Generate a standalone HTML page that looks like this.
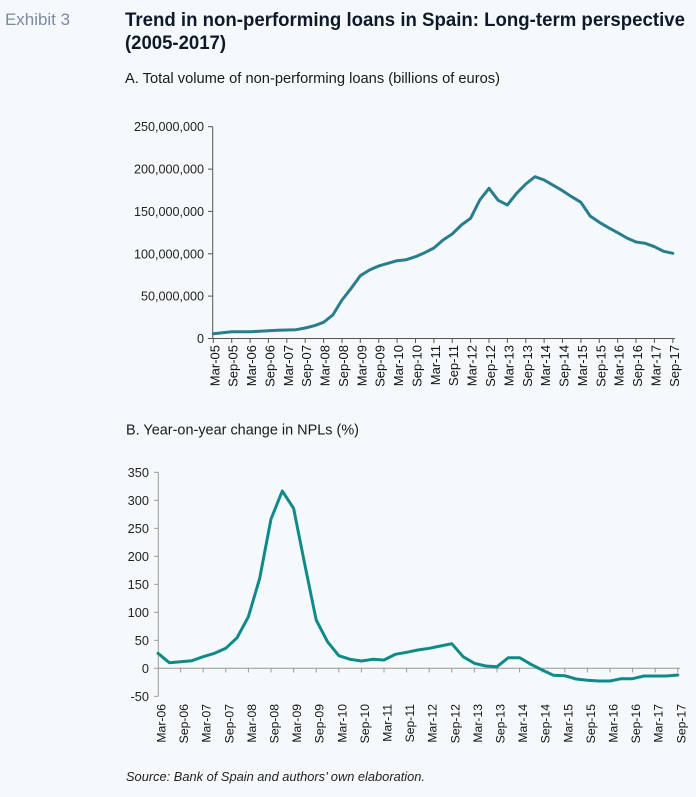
<!DOCTYPE html>
<html><head><meta charset="utf-8"><style>
html,body{margin:0;padding:0;background:#f5f9fb;}
svg{display:block;font-family:"Liberation Sans",Arial,sans-serif;}
</style></head><body>
<svg width="696" height="797" viewBox="0 0 696 797" xmlns="http://www.w3.org/2000/svg">
<rect width="696" height="797" fill="#f5f9fb"/>
<text x="5" y="25" font-size="17" fill="#7a8ba0" textLength="65" lengthAdjust="spacingAndGlyphs">Exhibit 3</text>
<text x="125" y="26" font-size="19.5" font-weight="bold" fill="#0e1a2a" textLength="560" lengthAdjust="spacingAndGlyphs">Trend in non-performing loans in Spain: Long-term perspective</text>
<text x="125" y="49" font-size="19.5" font-weight="bold" fill="#0e1a2a" textLength="101" lengthAdjust="spacingAndGlyphs">(2005-2017)</text>
<text x="125" y="83" font-size="14.5" fill="#1a1a1a" textLength="375" lengthAdjust="spacingAndGlyphs">A. Total volume of non-performing loans (billions of euros)</text>

<!-- Chart A axes -->
<g stroke="#555" stroke-width="1" fill="none">
<line x1="212.7" y1="126.7" x2="212.7" y2="338.5"/>
<line x1="212.7" y1="338.5" x2="675" y2="338.5"/>
<line x1="208" y1="126.7" x2="212.7" y2="126.7"/>
<line x1="208" y1="169.1" x2="212.7" y2="169.1"/>
<line x1="208" y1="211.4" x2="212.7" y2="211.4"/>
<line x1="208" y1="253.8" x2="212.7" y2="253.8"/>
<line x1="208" y1="296.1" x2="212.7" y2="296.1"/>
<line x1="208" y1="338.5" x2="212.7" y2="338.5"/>
</g>
<g stroke="#555" stroke-width="1">
<line x1="213.3" y1="338.5" x2="213.3" y2="343"/><line x1="231.7" y1="338.5" x2="231.7" y2="343"/><line x1="250.1" y1="338.5" x2="250.1" y2="343"/><line x1="268.4" y1="338.5" x2="268.4" y2="343"/><line x1="286.8" y1="338.5" x2="286.8" y2="343"/><line x1="305.2" y1="338.5" x2="305.2" y2="343"/><line x1="323.6" y1="338.5" x2="323.6" y2="343"/><line x1="342.0" y1="338.5" x2="342.0" y2="343"/><line x1="360.3" y1="338.5" x2="360.3" y2="343"/><line x1="378.7" y1="338.5" x2="378.7" y2="343"/><line x1="397.1" y1="338.5" x2="397.1" y2="343"/><line x1="415.5" y1="338.5" x2="415.5" y2="343"/><line x1="433.9" y1="338.5" x2="433.9" y2="343"/><line x1="452.2" y1="338.5" x2="452.2" y2="343"/><line x1="470.6" y1="338.5" x2="470.6" y2="343"/><line x1="489.0" y1="338.5" x2="489.0" y2="343"/><line x1="507.4" y1="338.5" x2="507.4" y2="343"/><line x1="525.8" y1="338.5" x2="525.8" y2="343"/><line x1="544.1" y1="338.5" x2="544.1" y2="343"/><line x1="562.5" y1="338.5" x2="562.5" y2="343"/><line x1="580.9" y1="338.5" x2="580.9" y2="343"/><line x1="599.3" y1="338.5" x2="599.3" y2="343"/><line x1="617.7" y1="338.5" x2="617.7" y2="343"/><line x1="636.0" y1="338.5" x2="636.0" y2="343"/><line x1="654.4" y1="338.5" x2="654.4" y2="343"/><line x1="672.8" y1="338.5" x2="672.8" y2="343"/>
</g>
<g font-size="12.6" fill="#222" text-anchor="end">
<text x="204" y="131.2">250,000,000</text>
<text x="204" y="173.6">200,000,000</text>
<text x="204" y="215.9">150,000,000</text>
<text x="204" y="258.3">100,000,000</text>
<text x="204" y="300.6">50,000,000</text>
<text x="204" y="343">0</text>
</g>
<g font-size="13" fill="#111" text-anchor="end">
<text transform="translate(219.3,345) rotate(-90)">Mar-05</text>
<text transform="translate(237.7,345) rotate(-90)">Sep-05</text>
<text transform="translate(256.1,345) rotate(-90)">Mar-06</text>
<text transform="translate(274.4,345) rotate(-90)">Sep-06</text>
<text transform="translate(292.8,345) rotate(-90)">Mar-07</text>
<text transform="translate(311.2,345) rotate(-90)">Sep-07</text>
<text transform="translate(329.6,345) rotate(-90)">Mar-08</text>
<text transform="translate(348.0,345) rotate(-90)">Sep-08</text>
<text transform="translate(366.3,345) rotate(-90)">Mar-09</text>
<text transform="translate(384.7,345) rotate(-90)">Sep-09</text>
<text transform="translate(403.1,345) rotate(-90)">Mar-10</text>
<text transform="translate(421.5,345) rotate(-90)">Sep-10</text>
<text transform="translate(439.9,345) rotate(-90)">Mar-11</text>
<text transform="translate(458.2,345) rotate(-90)">Sep-11</text>
<text transform="translate(476.6,345) rotate(-90)">Mar-12</text>
<text transform="translate(495.0,345) rotate(-90)">Sep-12</text>
<text transform="translate(513.4,345) rotate(-90)">Mar-13</text>
<text transform="translate(531.8,345) rotate(-90)">Sep-13</text>
<text transform="translate(550.1,345) rotate(-90)">Mar-14</text>
<text transform="translate(568.5,345) rotate(-90)">Sep-14</text>
<text transform="translate(586.9,345) rotate(-90)">Mar-15</text>
<text transform="translate(605.3,345) rotate(-90)">Sep-15</text>
<text transform="translate(623.7,345) rotate(-90)">Mar-16</text>
<text transform="translate(642.0,345) rotate(-90)">Sep-16</text>
<text transform="translate(660.4,345) rotate(-90)">Mar-17</text>
<text transform="translate(678.8,345) rotate(-90)">Sep-17</text>
</g>
<polyline fill="none" stroke="#2a7d8c" stroke-width="3" stroke-linejoin="round" stroke-linecap="round" points="
213.3,333.7 222.5,332.7 231.7,331.7 240.9,331.7 250.1,331.7 259.3,331.3 268.4,330.7 277.6,330.3 286.8,330 296.0,329.7
305.2,328 314.4,325.7 323.6,322.3 332.8,315 342.0,300 351.2,288.3 360.3,275.7 369.5,270 378.7,266 387.9,263.3
397.1,260.7 406.3,259.7 415.5,256.7 424.7,252.7 433.9,248 443.1,240 452.2,234 461.4,225 470.6,218.3 479.8,200
489.0,188.3 498.2,200.3 507.4,205 516.6,193.3 525.8,184 535.0,176.7 544.1,180 553.3,185.3 562.5,190.7 571.7,196.7
580.9,202.3 590.1,216 599.3,222.3 608.5,227.7 617.7,232.7 626.9,238 636.0,242 645.2,243.3 654.4,246.7 663.6,251.3 672.8,253.3"/>

<text x="126" y="434.5" font-size="14.5" fill="#1a1a1a" textLength="233" lengthAdjust="spacingAndGlyphs">B. Year-on-year change in NPLs (%)</text>

<!-- Chart B axes -->
<g stroke="#999" stroke-width="1" fill="none">
<line x1="158.3" y1="472.3" x2="158.3" y2="696.5"/>
<line x1="158.3" y1="668.3" x2="680" y2="668.3"/>
<line x1="154" y1="472.3" x2="158.3" y2="472.3"/>
<line x1="154" y1="500.3" x2="158.3" y2="500.3"/>
<line x1="154" y1="528.3" x2="158.3" y2="528.3"/>
<line x1="154" y1="556.3" x2="158.3" y2="556.3"/>
<line x1="154" y1="584.3" x2="158.3" y2="584.3"/>
<line x1="154" y1="612.3" x2="158.3" y2="612.3"/>
<line x1="154" y1="640.3" x2="158.3" y2="640.3"/>
<line x1="154" y1="668.3" x2="158.3" y2="668.3"/>
<line x1="154" y1="696.3" x2="158.3" y2="696.3"/>
</g>
<g stroke="#999" stroke-width="1">
<line x1="180.6" y1="668.3" x2="180.6" y2="672.5"/><line x1="203.2" y1="668.3" x2="203.2" y2="672.5"/><line x1="225.8" y1="668.3" x2="225.8" y2="672.5"/><line x1="248.4" y1="668.3" x2="248.4" y2="672.5"/><line x1="271" y1="668.3" x2="271" y2="672.5"/><line x1="293.6" y1="668.3" x2="293.6" y2="672.5"/><line x1="316.2" y1="668.3" x2="316.2" y2="672.5"/><line x1="338.8" y1="668.3" x2="338.8" y2="672.5"/><line x1="361.4" y1="668.3" x2="361.4" y2="672.5"/><line x1="384" y1="668.3" x2="384" y2="672.5"/><line x1="406.6" y1="668.3" x2="406.6" y2="672.5"/><line x1="429.2" y1="668.3" x2="429.2" y2="672.5"/><line x1="451.8" y1="668.3" x2="451.8" y2="672.5"/><line x1="474.4" y1="668.3" x2="474.4" y2="672.5"/><line x1="497" y1="668.3" x2="497" y2="672.5"/><line x1="519.6" y1="668.3" x2="519.6" y2="672.5"/><line x1="542.2" y1="668.3" x2="542.2" y2="672.5"/><line x1="564.8" y1="668.3" x2="564.8" y2="672.5"/><line x1="587.4" y1="668.3" x2="587.4" y2="672.5"/><line x1="610" y1="668.3" x2="610" y2="672.5"/><line x1="632.6" y1="668.3" x2="632.6" y2="672.5"/><line x1="655.2" y1="668.3" x2="655.2" y2="672.5"/><line x1="677.8" y1="668.3" x2="677.8" y2="672.5"/>
</g>
<g font-size="12.8" fill="#222" text-anchor="end">
<text x="149" y="476.8">350</text>
<text x="149" y="504.8">300</text>
<text x="149" y="532.8">250</text>
<text x="149" y="560.8">200</text>
<text x="149" y="588.8">150</text>
<text x="149" y="616.8">100</text>
<text x="149" y="644.8">50</text>
<text x="149" y="672.8">0</text>
<text x="149" y="700.8">-50</text>
</g>
<g font-size="12.2" fill="#111" text-anchor="end">
<text transform="translate(165.5,704) rotate(-90)">Mar-06</text>
<text transform="translate(188.1,704) rotate(-90)">Sep-06</text>
<text transform="translate(210.7,704) rotate(-90)">Mar-07</text>
<text transform="translate(233.3,704) rotate(-90)">Sep-07</text>
<text transform="translate(255.9,704) rotate(-90)">Mar-08</text>
<text transform="translate(278.5,704) rotate(-90)">Sep-08</text>
<text transform="translate(301.1,704) rotate(-90)">Mar-09</text>
<text transform="translate(323.7,704) rotate(-90)">Sep-09</text>
<text transform="translate(346.3,704) rotate(-90)">Mar-10</text>
<text transform="translate(368.9,704) rotate(-90)">Sep-10</text>
<text transform="translate(391.5,704) rotate(-90)">Mar-11</text>
<text transform="translate(414.1,704) rotate(-90)">Sep-11</text>
<text transform="translate(436.7,704) rotate(-90)">Mar-12</text>
<text transform="translate(459.3,704) rotate(-90)">Sep-12</text>
<text transform="translate(481.9,704) rotate(-90)">Mar-13</text>
<text transform="translate(504.5,704) rotate(-90)">Sep-13</text>
<text transform="translate(527.1,704) rotate(-90)">Mar-14</text>
<text transform="translate(549.7,704) rotate(-90)">Sep-14</text>
<text transform="translate(572.3,704) rotate(-90)">Mar-15</text>
<text transform="translate(594.9,704) rotate(-90)">Sep-15</text>
<text transform="translate(617.5,704) rotate(-90)">Mar-16</text>
<text transform="translate(640.1,704) rotate(-90)">Sep-16</text>
<text transform="translate(662.7,704) rotate(-90)">Mar-17</text>
<text transform="translate(685.3,704) rotate(-90)">Sep-17</text>
</g>
<polyline fill="none" stroke="#0f8a8a" stroke-width="3" stroke-linejoin="round" stroke-linecap="round" points="
158,653.3 169.3,662.7 180.6,661.7 191.9,660.7 203.2,656.7 214.5,653.3 225.8,648.3 237.1,637.7 248.4,616.7 259.7,578.3
271,519 282.3,491 293.6,508.3 304.9,565 316.2,620 327.5,641.7 338.8,655.7 350.1,659.3 361.4,661 372.7,659.3
384,660 395.3,654.3 406.6,652.3 417.9,650 429.2,648.3 440.5,646 451.8,643.7 463.1,656.7 474.4,663.3 485.7,666
497,666.7 508.3,657.7 519.6,657.7 530.9,664.3 542.2,670 553.5,675.3 564.8,675.7 576.1,679 587.4,680.3 598.7,681
610,681 621.3,678.7 632.6,678.7 643.9,676 655.2,676 666.5,676 677.8,675"/>

<text x="126" y="781" font-size="12.5" font-style="italic" fill="#222" textLength="299" lengthAdjust="spacingAndGlyphs">Source: Bank of Spain and authors’ own elaboration.</text>
</svg>
</body></html>
